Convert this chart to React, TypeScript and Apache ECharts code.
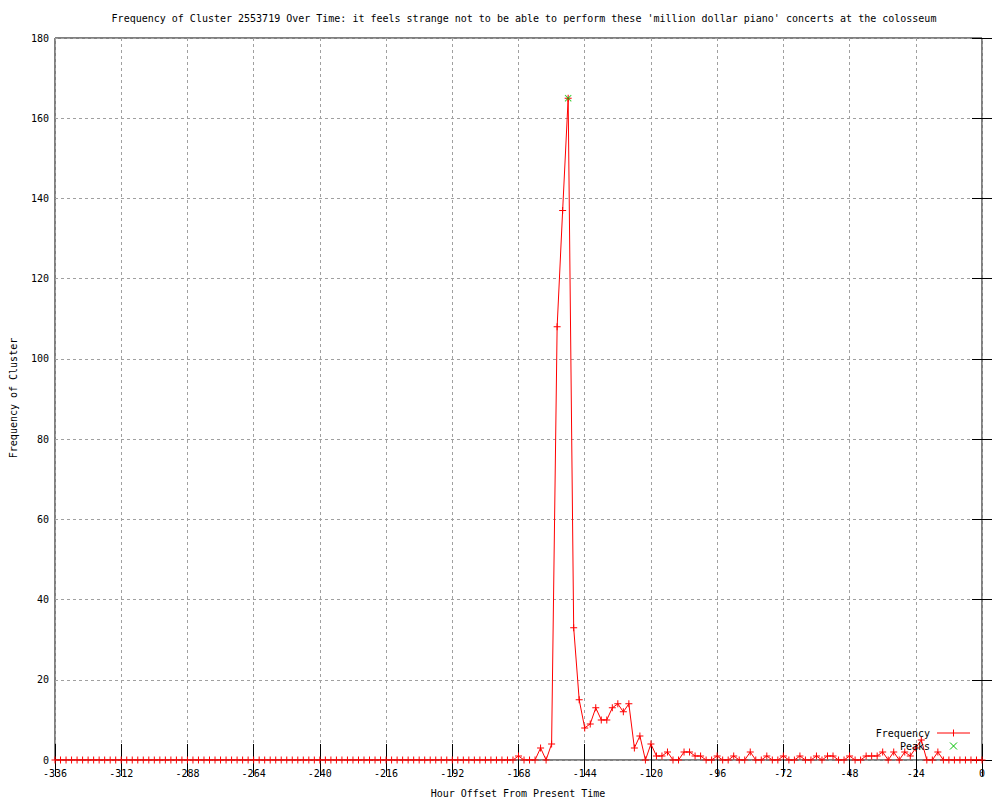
import React, { useEffect, useRef } from "react";
import * as echarts from "echarts";

const titleText =
  "Frequency of Cluster 2553719 Over Time: it feels strange not to be able to perform these 'million dollar piano' concerts at the colosseum";
const xAxisName = "Hour Offset From Present Time";
const yAxisName = "Frequency of Cluster";

const hours = [
  -336, -334, -332, -330, -328, -326, -324, -322, -320, -318, -316, -314,
  -312, -310, -308, -306, -304, -302, -300, -298, -296, -294, -292, -290,
  -288, -286, -284, -282, -280, -278, -276, -274, -272, -270, -268, -266,
  -264, -262, -260, -258, -256, -254, -252, -250, -248, -246, -244, -242,
  -240, -238, -236, -234, -232, -230, -228, -226, -224, -222, -220, -218,
  -216, -214, -212, -210, -208, -206, -204, -202, -200, -198, -196, -194,
  -192, -190, -188, -186, -184, -182, -180, -178, -176, -174, -172, -170,
  -168, -166, -164, -162, -160, -158, -156, -154, -152, -150, -148, -146,
  -144, -142, -140, -138, -136, -134, -132, -130, -128, -126, -124, -122,
  -120, -118, -116, -114, -112, -110, -108, -106, -104, -102, -100, -98,
  -96, -94, -92, -90, -88, -86, -84, -82, -80, -78, -76, -74,
  -72, -70, -68, -66, -64, -62, -60, -58, -56, -54, -52, -50,
  -48, -46, -44, -42, -40, -38, -36, -34, -32, -30, -28, -26,
  -24, -22, -20, -18, -16, -14, -12, -10, -8, -6, -4, -2,
  0,
];

const frequency = [
  0, 0, 0, 0, 0, 0, 0, 0, 0, 0, 0, 0,
  0, 0, 0, 0, 0, 0, 0, 0, 0, 0, 0, 0,
  0, 0, 0, 0, 0, 0, 0, 0, 0, 0, 0, 0,
  0, 0, 0, 0, 0, 0, 0, 0, 0, 0, 0, 0,
  0, 0, 0, 0, 0, 0, 0, 0, 0, 0, 0, 0,
  0, 0, 0, 0, 0, 0, 0, 0, 0, 0, 0, 0,
  0, 0, 0, 0, 0, 0, 0, 0, 0, 0, 0, 0,
  1, 0, 0, 0, 3, 0, 4, 108, 137, 165, 33, 15,
  8, 9, 13, 10, 10, 13, 14, 12, 14, 3, 6, 0,
  4, 1, 1, 2, 0, 0, 2, 2, 1, 1, 0, 0,
  1, 0, 0, 1, 0, 0, 2, 0, 0, 1, 0, 0,
  1, 0, 0, 1, 0, 0, 1, 0, 1, 1, 0, 0,
  1, 0, 0, 1, 1, 1, 2, 0, 2, 0, 2, 1,
  3, 5, 0, 0, 2, 0, 0, 0, 0, 0, 0, 0,
  0,
];

const peakHours = [-150];
const peakValues = [165];

const FONT = "DejaVu Sans Mono";
const PLUS = "path://M3,0h1v3h3v1h-3v3h-1v-3h-3v-1h3z";
const CROSS =
  "path://M0,0.7L0.7,0L3.5,2.8L6.3,0L7,0.7L4.2,3.5L7,6.3L6.3,7L3.5,4.2L0.7,7L0,6.3L2.8,3.5Z";

export default function App() {
  const ref = useRef<HTMLDivElement>(null);
  useEffect(() => {
    const chart = echarts.init(ref.current!, null, { renderer: "svg" });
    const gridLine = { show: true, lineStyle: { color: "#a0a0a0", width: 1, type: [3, 3] as any } };
    const option: any = {
      animation: false,
      backgroundColor: "#fff",
      grid: {
        left: 55,
        right: 18,
        top: 38,
        bottom: 40,
        show: true,
        borderColor: "#000",
        borderWidth: 1,
        backgroundColor: "transparent",
        containLabel: false,
      },
      xAxis: [
        {
          type: "value",
          min: -336,
          max: 0,
          interval: 24,
          position: "bottom",
          axisLine: { show: false },
          axisTick: { show: true, inside: true, length: 16, lineStyle: { color: "#000" } },
          axisLabel: { color: "#000", fontFamily: FONT, fontSize: 10, margin: 8 },
          splitLine: gridLine,
        },
        {
          type: "value",
          min: -336,
          max: 0,
          interval: 24,
          position: "top",
          axisLine: { show: false },
          axisTick: { show: true, inside: true, length: 16, lineStyle: { color: "#000" } },
          axisLabel: { show: false },
          splitLine: { show: false },
        },
      ],
      yAxis: [
        {
          type: "value",
          min: 0,
          max: 180,
          interval: 20,
          position: "left",
          axisLine: { show: false },
          axisTick: { show: true, inside: true, length: 10, lineStyle: { color: "#000" } },
          axisLabel: { color: "#000", fontFamily: FONT, fontSize: 10, margin: 6 },
          splitLine: gridLine,
        },
        {
          type: "value",
          min: 0,
          max: 180,
          interval: 20,
          position: "right",
          axisLine: { show: false },
          axisTick: { show: true, inside: true, length: 10, lineStyle: { color: "#000" } },
          axisLabel: { show: false },
          splitLine: { show: false },
        },
      ],
      series: [
        {
          name: "Frequency",
          type: "line",
          xAxisIndex: 0,
          yAxisIndex: 0,
          data: hours.map((h, i) => [h, frequency[i]]),
          lineStyle: { color: "#ff0000", width: 1 },
          itemStyle: { color: "#ff0000" },
          symbol: PLUS,
          symbolSize: 7,
          showSymbol: true,
          showAllSymbol: true,
          z: 3,
        },
        {
          name: "Peaks",
          type: "scatter",
          xAxisIndex: 0,
          yAxisIndex: 0,
          data: peakHours.map((h, i) => [h, peakValues[i]]),
          itemStyle: { color: "#00c000" },
          symbol: CROSS,
          symbolSize: 7,
          z: 4,
        },
      ],
      graphic: [
        {
          type: "text",
          x: 524,
          y: 18,
          style: {
            text: titleText,
            fill: "#000",
            font: `10px "${FONT}"`,
            textAlign: "center",
            textVerticalAlign: "middle",
          },
        },
        {
          type: "text",
          x: 518,
          y: 793,
          style: {
            text: xAxisName,
            fill: "#000",
            font: `10px "${FONT}"`,
            textAlign: "center",
            textVerticalAlign: "middle",
          },
        },
        {
          type: "text",
          x: 13,
          y: 398,
          rotation: Math.PI / 2,
          style: {
            text: yAxisName,
            fill: "#000",
            font: `10px "${FONT}"`,
            textAlign: "center",
            textVerticalAlign: "middle",
          },
        },
        {
          type: "text",
          x: 930,
          y: 733,
          style: {
            text: "Frequency",
            fill: "#000",
            font: `10px "${FONT}"`,
            textAlign: "right",
            textVerticalAlign: "middle",
          },
          z: 10,
        },
        {
          type: "line",
          shape: { x1: 937, y1: 733, x2: 970, y2: 733 },
          style: { stroke: "#ff0000", lineWidth: 1 },
          z: 10,
        },
        {
          type: "line",
          shape: { x1: 953.5, y1: 729.5, x2: 953.5, y2: 736.5 },
          style: { stroke: "#ff0000", lineWidth: 1 },
          z: 10,
        },
        {
          type: "text",
          x: 930,
          y: 746,
          style: {
            text: "Peaks",
            fill: "#000",
            font: `10px "${FONT}"`,
            textAlign: "right",
            textVerticalAlign: "middle",
          },
          z: 10,
        },
        {
          type: "line",
          shape: { x1: 950, y1: 742.5, x2: 957, y2: 749.5 },
          style: { stroke: "#00c000", lineWidth: 1 },
          z: 10,
        },
        {
          type: "line",
          shape: { x1: 957, y1: 742.5, x2: 950, y2: 749.5 },
          style: { stroke: "#00c000", lineWidth: 1 },
          z: 10,
        },
      ],
    };
    chart.setOption(option);
    return () => chart.dispose();
  }, []);
  return (
    <div
      ref={ref}
      style={{ position: "absolute", left: 0, top: 0, width: 1000, height: 800, background: "#fff" }}
    />
  );
}
